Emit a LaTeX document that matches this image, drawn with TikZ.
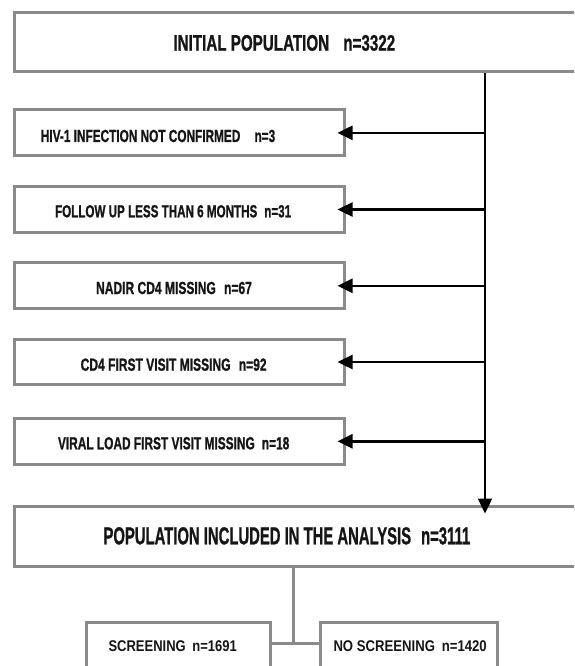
\documentclass[tikz,border=0pt]{standalone}
\usepackage{fontspec}
\setmainfont{Liberation Sans}
\newfontfamily\dinfont{Liberation Sans}[BoldFeatures={FakeBold=1.2}]
\usepackage{graphicx}
\usetikzlibrary{arrows.meta}
\definecolor{boxgrey}{HTML}{8A8A8A}
\definecolor{ink}{HTML}{161616}
\newcommand\fitw[2]{\resizebox{#1}{\height}{#2}}
\begin{document}
\begin{tikzpicture}[x=1pt,y=-1pt,
  box/.style={draw=boxgrey,line width=3pt,fill=white,inner sep=0pt,anchor=center},
  txt/.style={anchor=base west,inner sep=0pt,text=ink},
  arr/.style={draw=black,line width=2.4pt,-{Triangle[length=15pt,width=14pt]}},
  grey line/.style={draw=boxgrey,line width=3pt}]
\useasboundingbox (0,0) rectangle (574,666);
\clip (0,0) rectangle (574,666);
% boxes
\node[box,minimum width=605.3pt,minimum height=59.2pt] (top) at (317.35,42.1) {};
\node[box,minimum width=329.3pt,minimum height=45.7pt] (ex1) at (179.35,132.85) {};
\node[box,minimum width=329.3pt,minimum height=45.7pt] (ex2) at (179.35,209.5) {};
\node[box,minimum width=329.3pt,minimum height=45.7pt] (ex3) at (179.35,285.8) {};
\node[box,minimum width=329.3pt,minimum height=45.7pt] (ex4) at (179.35,362) {};
\node[box,minimum width=329.3pt,minimum height=45.7pt] (ex5) at (179.35,441.3) {};
\node[box,minimum width=605.3pt,minimum height=60pt] (bot) at (317.35,536) {};
\node[box,minimum width=183.3pt,minimum height=67.2pt] (scr) at (178.35,656.4) {};
\node[box,minimum width=177pt,minimum height=67.2pt] (noscr) at (408.5,656.4) {};
% texts
\node[txt,font=\dinfont\bfseries\fontsize{22.5}{26}\selectfont] (t0) at (173.3,50.7)
  {\fitw{221.7pt}{INITIAL POPULATION\hspace{21pt}n=3322}};
\node[txt,font=\dinfont\bfseries\fontsize{17.5}{20}\selectfont] (t1) at (40.7,142)
  {\fitw{234.3pt}{HIV-1 INFECTION NOT CONFIRMED\hspace{21pt}n=3}};
\node[txt,font=\dinfont\bfseries\fontsize{17.5}{20}\selectfont] (t2) at (54.9,217.3)
  {\fitw{236pt}{FOLLOW UP LESS THAN 6 MONTHS\hspace{10.5pt}n=31}};
\node[txt,font=\dinfont\bfseries\fontsize{17.5}{20}\selectfont] (t3) at (95.9,294)
  {\fitw{155.8pt}{NADIR CD4 MISSING\hspace{12pt}n=67}};
\node[txt,font=\dinfont\bfseries\fontsize{17.5}{20}\selectfont] (t4) at (80.5,370.7)
  {\fitw{185.9pt}{CD4 FIRST VISIT MISSING\hspace{12pt}n=92}};
\node[txt,font=\dinfont\bfseries\fontsize{17.5}{20}\selectfont] (t5) at (57.8,449.3)
  {\fitw{231.3pt}{VIRAL LOAD FIRST VISIT MISSING\hspace{10.5pt}n=18}};
\node[txt,font=\dinfont\bfseries\fontsize{24.5}{28}\selectfont] (t6) at (103.3,544.3)
  {\fitw{366.7pt}{POPULATION INCLUDED IN THE ANALYSIS\hspace{16.5pt}n=3111}};
\node[txt,font=\bfseries\fontsize{15.5}{18}\selectfont] (t7) at (108.3,651.7)
  {\fitw{128.4pt}{SCREENING\hspace{8pt}n=1691}};
\node[txt,font=\bfseries\fontsize{15.5}{18}\selectfont] (t8) at (333.3,651.7)
  {\fitw{153.3pt}{NO SCREENING\hspace{8pt}n=1420}};
% connectors
\coordinate (vx) at (485,0);
\coordinate (junc) at (293.3,643.3);
\draw[arr,shorten >=-9pt] (top.south -| vx) -- (bot.north -| vx);
\foreach \b in {ex1,ex2,ex3,ex4,ex5}
  \draw[arr,shorten >=-8pt] (\b.east -| vx) -- (\b.east);
\draw[grey line] (bot.south -| junc) -- (junc);
\draw[grey line] (scr.east |- junc) -- (noscr.west |- junc);
\end{tikzpicture}
\end{document}
